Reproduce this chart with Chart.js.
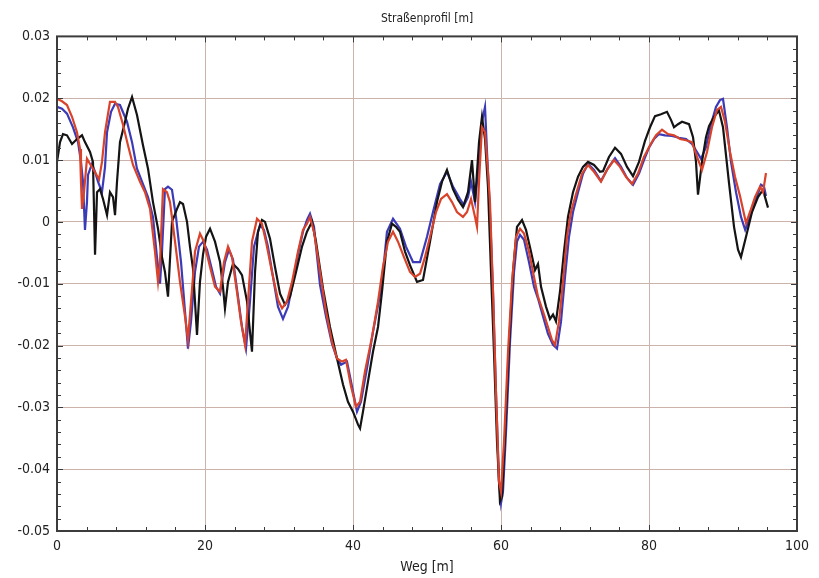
<!DOCTYPE html>
<html>
<head>
<meta charset="utf-8">
<script src="https://cdn.jsdelivr.net/npm/chart.js@4.4.1/dist/chart.umd.min.js"></script>
<style>
  html, body { margin: 0; padding: 0; background: #ffffff; }
  #wrap { width: 819px; height: 578px; }
</style>
</head>
<body>
<div id="wrap"><canvas id="c" width="819" height="578"></canvas></div>
<script>
const chartTitle = "Straßenprofil [m]";
const xAxisTitle = "Weg [m]";
const xTicks = [0, 20, 40, 60, 80, 100];
const yTicks = [0.03, 0.02, 0.01, 0, -0.01, -0.02, -0.03, -0.04, -0.05];

const redX = [0,0.68,1.35,2.03,2.70,3.11,3.24,3.38,3.65,4.05,4.86,5.68,6.08,6.49,7.16,7.84,8.24,8.92,9.59,10.27,11.22,11.89,12.57,13.24,13.65,13.92,14.32,14.86,15.27,15.95,16.62,17.30,17.70,18.11,18.65,19.32,19.86,20.68,21.35,22.03,22.57,23.11,23.65,24.32,24.86,25.41,25.81,26.35,27.03,27.70,28.24,29.05,29.86,30.41,31.08,31.76,32.57,33.24,33.78,34.19,34.73,35.54,36.35,37.16,37.84,38.51,39.05,39.73,40.41,40.95,41.62,42.57,43.38,44.05,44.73,45.41,46.08,46.89,47.70,48.38,49.05,49.73,50.41,51.22,51.89,52.70,53.38,54.05,54.86,55.41,55.95,56.49,56.76,57.03,57.43,57.84,58.24,58.51,58.92,59.32,59.73,60.0,60.41,60.95,61.49,62.03,62.57,63.11,63.78,64.46,65.0,65.68,66.35,66.89,67.30,67.84,68.38,68.92,69.46,70.14,70.95,71.76,72.57,73.51,74.32,75.27,76.08,76.89,77.70,78.51,79.32,80.14,80.95,81.76,82.57,83.38,84.19,85.0,85.81,86.49,87.16,87.84,88.51,89.19,89.73,90.27,90.95,91.62,92.30,93.11,93.65,94.32,95.0,95.41,95.81];
const redY = [0.0199,0.0195,0.0189,0.0170,0.0145,0.0118,0.0065,0.0021,0.0048,0.0102,0.0086,0.0069,0.0097,0.0145,0.0194,0.0194,0.0186,0.0157,0.0124,0.0092,0.0065,0.0048,0.0021,-0.0048,-0.0097,-0.0065,0.0053,0.0048,0.0032,-0.0032,-0.0097,-0.0153,-0.0191,-0.0129,-0.0048,-0.0019,-0.0032,-0.0073,-0.0105,-0.0113,-0.0065,-0.0040,-0.0057,-0.0113,-0.0161,-0.0199,-0.0129,-0.0032,0.0005,-0.0003,-0.0032,-0.0081,-0.0126,-0.0140,-0.0129,-0.0097,-0.0048,-0.0013,-0.0003,0.0008,-0.0016,-0.0081,-0.0145,-0.0194,-0.0221,-0.0226,-0.0223,-0.0266,-0.0299,-0.0291,-0.0242,-0.0186,-0.0129,-0.0073,-0.0032,-0.0016,-0.0032,-0.0057,-0.0081,-0.0089,-0.0084,-0.0057,-0.0024,0.0016,0.0037,0.0045,0.0032,0.0016,0.0008,0.0016,0.0037,0.0008,-0.0008,0.0065,0.0153,0.0145,0.0081,0.0032,-0.0113,-0.0275,-0.0420,-0.0436,-0.0355,-0.0210,-0.0097,-0.0024,-0.0011,-0.0019,-0.0048,-0.0089,-0.0121,-0.0145,-0.0170,-0.0191,-0.0199,-0.0161,-0.0097,-0.0024,0.0016,0.0045,0.0078,0.0092,0.0081,0.0065,0.0084,0.0100,0.0089,0.0073,0.0061,0.0078,0.0105,0.0124,0.0140,0.0149,0.0142,0.0140,0.0134,0.0132,0.0129,0.0105,0.0084,0.0113,0.0153,0.0181,0.0186,0.0162,0.0113,0.0073,0.0042,-0.0002,0.0016,0.0040,0.0057,0.0048,0.0079];

const blueX = [0,0.68,1.35,2.16,2.84,3.24,3.51,3.78,4.05,4.19,4.73,5.14,5.54,6.08,6.49,6.76,7.30,7.84,8.51,9.46,10.14,10.81,11.62,12.30,12.97,13.51,13.92,14.19,14.59,15.0,15.54,16.08,16.76,17.30,17.70,18.11,18.65,19.19,19.73,20.27,20.95,21.49,22.03,22.70,23.24,23.78,24.46,25.0,25.54,26.08,26.62,27.43,27.97,28.51,29.19,29.86,30.54,31.22,31.89,32.57,33.24,33.78,34.19,34.73,35.54,36.35,37.16,37.84,38.38,39.19,39.86,40.54,41.08,41.89,42.70,43.65,44.19,44.59,45.41,46.35,47.16,48.11,49.05,50.0,50.81,51.76,52.70,53.51,54.46,55.0,55.54,55.95,56.49,56.89,57.43,57.84,58.11,58.51,58.92,59.32,59.73,60.0,60.27,60.68,61.22,61.76,62.16,62.57,63.11,63.78,64.46,65.0,65.68,66.35,67.03,67.57,68.11,68.65,69.19,69.73,70.41,71.08,71.76,72.57,73.51,74.46,75.41,76.22,77.03,77.84,78.65,79.32,80.0,80.68,81.35,82.16,83.11,84.05,85.0,85.81,86.49,87.03,87.70,88.38,89.05,89.59,90.0,90.54,91.08,91.76,92.43,93.0,93.65,94.32,95.14,95.54,95.81];
const blueY = [0.0186,0.0183,0.0175,0.0153,0.0129,0.0097,0.0065,-0.0013,0.0032,0.0076,0.0094,0.0081,0.0065,0.0048,0.0089,0.0145,0.0178,0.0191,0.0189,0.0162,0.0129,0.0086,0.0061,0.0040,0.0008,-0.0057,-0.0100,-0.0048,0.0053,0.0057,0.0052,0.0008,-0.0065,-0.0145,-0.0205,-0.0161,-0.0081,-0.0040,-0.0032,-0.0045,-0.0078,-0.0105,-0.0116,-0.0065,-0.0045,-0.0061,-0.0121,-0.0170,-0.0205,-0.0129,-0.0040,-0.0005,-0.0013,-0.0040,-0.0089,-0.0137,-0.0157,-0.0137,-0.0097,-0.0052,-0.0016,0.0003,0.0013,-0.0008,-0.0102,-0.0153,-0.0197,-0.0221,-0.0231,-0.0226,-0.0266,-0.0307,-0.0291,-0.0237,-0.0178,-0.0118,-0.0065,-0.0016,0.0005,-0.0011,-0.0040,-0.0065,-0.0065,-0.0024,0.0016,0.0061,0.0081,0.0057,0.0037,0.0027,0.0040,0.0065,0.0032,0.0081,0.0162,0.0186,0.0113,0.0016,-0.0113,-0.0275,-0.0420,-0.0455,-0.0436,-0.0339,-0.0194,-0.0081,-0.0032,-0.0021,-0.0029,-0.0065,-0.0105,-0.0124,-0.0153,-0.0181,-0.0199,-0.0205,-0.0161,-0.0089,-0.0024,0.0016,0.0048,0.0078,0.0094,0.0084,0.0066,0.0087,0.0103,0.0089,0.0071,0.0060,0.0078,0.0100,0.0120,0.0134,0.0142,0.0140,0.0139,0.0136,0.0134,0.0126,0.0113,0.0102,0.0121,0.0158,0.0186,0.0197,0.0199,0.0153,0.0097,0.0048,0.0008,-0.0013,0.0008,0.0032,0.0060,0.0057,0.0042];

const blackX = [0,0.14,0.41,0.81,1.35,2.03,2.70,3.38,3.78,4.46,4.86,5.14,5.41,5.81,6.22,6.76,7.16,7.57,7.84,8.11,8.51,9.19,9.59,10.14,10.81,11.62,12.30,12.97,13.65,14.19,14.59,15.0,15.54,16.22,16.62,17.03,17.57,17.97,18.38,18.92,19.32,19.73,20.14,20.68,21.35,22.03,22.43,22.70,23.11,23.78,24.46,25.0,25.68,26.08,26.35,26.76,27.16,27.70,28.11,28.78,29.46,30.14,30.81,31.49,32.30,33.11,33.78,34.46,35.0,35.95,36.89,37.84,38.65,39.32,40.0,40.68,40.95,41.35,42.03,42.70,43.38,43.92,44.59,45.27,45.81,46.35,47.03,47.70,48.65,49.46,50.41,51.35,52.03,52.70,53.51,54.19,54.86,55.54,56.08,56.49,57.03,57.43,57.84,58.24,58.65,59.05,59.46,59.86,60.14,60.54,61.08,61.62,62.16,62.84,63.38,64.05,64.59,65.0,65.41,66.08,66.62,67.03,67.43,67.97,68.51,69.05,69.73,70.41,71.08,71.76,72.57,73.38,73.78,74.59,75.41,76.22,77.03,77.84,78.65,79.46,80.14,80.81,81.62,82.43,82.97,83.38,83.92,84.46,85.41,85.95,86.35,86.62,87.16,87.70,88.11,88.78,89.46,90.0,90.81,91.49,92.03,92.43,93.11,93.92,94.73,95.41,95.68,96.08];
const blackY = [0.0097,0.0108,0.0129,0.0142,0.0140,0.0126,0.0134,0.0140,0.0129,0.0113,0.0097,-0.0053,0.0048,0.0053,0.0037,0.0011,0.0048,0.0040,0.0011,0.0065,0.0129,0.0162,0.0183,0.0202,0.0173,0.0124,0.0086,0.0032,-0.0011,-0.0057,-0.0081,-0.0121,0.0000,0.0021,0.0032,0.0029,0.0000,-0.0040,-0.0076,-0.0183,-0.0097,-0.0053,-0.0024,-0.0011,-0.0032,-0.0065,-0.0105,-0.0140,-0.0097,-0.0068,-0.0076,-0.0086,-0.0129,-0.0178,-0.0210,-0.0081,-0.0016,0.0003,0.0000,-0.0027,-0.0073,-0.0116,-0.0134,-0.0121,-0.0081,-0.0040,-0.0016,0.0000,-0.0032,-0.0108,-0.0170,-0.0221,-0.0263,-0.0291,-0.0307,-0.0328,-0.0334,-0.0307,-0.0258,-0.0210,-0.0170,-0.0113,-0.0032,-0.0003,-0.0008,-0.0016,-0.0048,-0.0070,-0.0097,-0.0094,-0.0032,0.0032,0.0065,0.0084,0.0053,0.0036,0.0024,0.0048,0.0100,0.0032,0.0129,0.0170,0.0134,0.0057,-0.0081,-0.0210,-0.0355,-0.0452,-0.0444,-0.0347,-0.0202,-0.0081,-0.0008,0.0003,-0.0013,-0.0048,-0.0078,-0.0068,-0.0105,-0.0137,-0.0157,-0.0150,-0.0161,-0.0113,-0.0048,0.0008,0.0048,0.0073,0.0089,0.0097,0.0092,0.0081,0.0082,0.0105,0.0120,0.0110,0.0089,0.0074,0.0097,0.0131,0.0153,0.0171,0.0174,0.0178,0.0165,0.0153,0.0158,0.0162,0.0158,0.0137,0.0097,0.0044,0.0097,0.0137,0.0155,0.0170,0.0180,0.0153,0.0063,-0.0008,-0.0045,-0.0057,-0.0024,0.0016,0.0040,0.0052,0.0040,0.0023];

function pts(xs, ys) { return xs.map((x, i) => ({ x: x, y: ys[i] })); }

const FONT = '"DejaVu Sans Condensed", "Liberation Sans", sans-serif';

const frame = {
  id: 'frame',
  afterDraw(chart) {
    const { ctx, chartArea: a, scales } = chart;
    const xs = scales.x, ys = scales.y;
    ctx.save();
    ctx.strokeStyle = '#3a3a3a';
    ctx.lineWidth = 1;
    for (let v = 0; v <= 100; v += 4) {
      const px = Math.round(xs.getPixelForValue(v)) + 0.5;
      const len = (v % 20 === 0) ? 6 : 4;
      ctx.beginPath();
      ctx.moveTo(px, a.bottom); ctx.lineTo(px, a.bottom - len);
      ctx.moveTo(px, a.top); ctx.lineTo(px, a.top + len);
      ctx.stroke();
    }
    for (let k = -25; k <= 15; k++) {
      const v = k * 0.002;
      const py = Math.round(ys.getPixelForValue(v)) + 0.5;
      const len = (k % 5 === 0) ? 6 : 4;
      ctx.beginPath();
      ctx.moveTo(a.left, py); ctx.lineTo(a.left + len, py);
      ctx.moveTo(a.right, py); ctx.lineTo(a.right - len, py);
      ctx.stroke();
    }
    ctx.lineWidth = 2;
    ctx.strokeStyle = '#3c3c3c';
    ctx.strokeRect(a.left, a.top, a.right - a.left, a.bottom - a.top);
    ctx.restore();
  }
};

new Chart(document.getElementById('c'), {
  type: 'line',
  data: {
    datasets: [
      { label: 'rot', data: pts(redX, redY), borderColor: '#d9432b', borderWidth: 2.2, pointRadius: 0, tension: 0 },
      { label: 'schwarz', data: pts(blackX, blackY), borderColor: '#141414', borderWidth: 2.2, pointRadius: 0, tension: 0 },
      { label: 'blau', data: pts(blueX, blueY), borderColor: '#3b3bb8', borderWidth: 2.2, pointRadius: 0, tension: 0 }
    ]
  },
  options: {
    responsive: false,
    animation: false,
    devicePixelRatio: 1,
    layout: { padding: { left: 0, right: 22, top: 0, bottom: 0 } },
    plugins: {
      legend: { display: false },
      tooltip: { enabled: false },
      title: {
        display: true,
        fullSize: false,
        text: chartTitle,
        color: '#222222',
        font: { family: FONT, size: 12, weight: 'normal' },
        padding: { top: 12, bottom: 10 }
      }
    },
    scales: {
      x: {
        type: 'linear',
        min: 0, max: 100,
        afterBuildTicks(s) { s.ticks = xTicks.map(v => ({ value: v })); },
        afterFit(s) { s.height = 47; },
        grid: { color: '#cbb3ab', lineWidth: 1, drawTicks: false },
        border: { display: false },
        ticks: { color: '#222222', padding: 7, maxRotation: 0, font: { family: FONT, size: 14 } },
        title: { display: true, text: xAxisTitle, color: '#222222', font: { family: FONT, size: 14 }, padding: { top: 0, bottom: 2 } }
      },
      y: {
        type: 'linear',
        min: -0.05, max: 0.03,
        afterBuildTicks(s) { s.ticks = yTicks.map(v => ({ value: v })); },
        afterFit(s) { s.width = 57; },
        grid: { color: '#cbb3ab', lineWidth: 1, drawTicks: false },
        border: { display: false },
        ticks: {
          color: '#222222', padding: 7, font: { family: FONT, size: 14 },
          callback(v) { return String(Number(v.toFixed(2))); }
        }
      }
    }
  },
  plugins: [frame]
});
</script>
</body>
</html>
